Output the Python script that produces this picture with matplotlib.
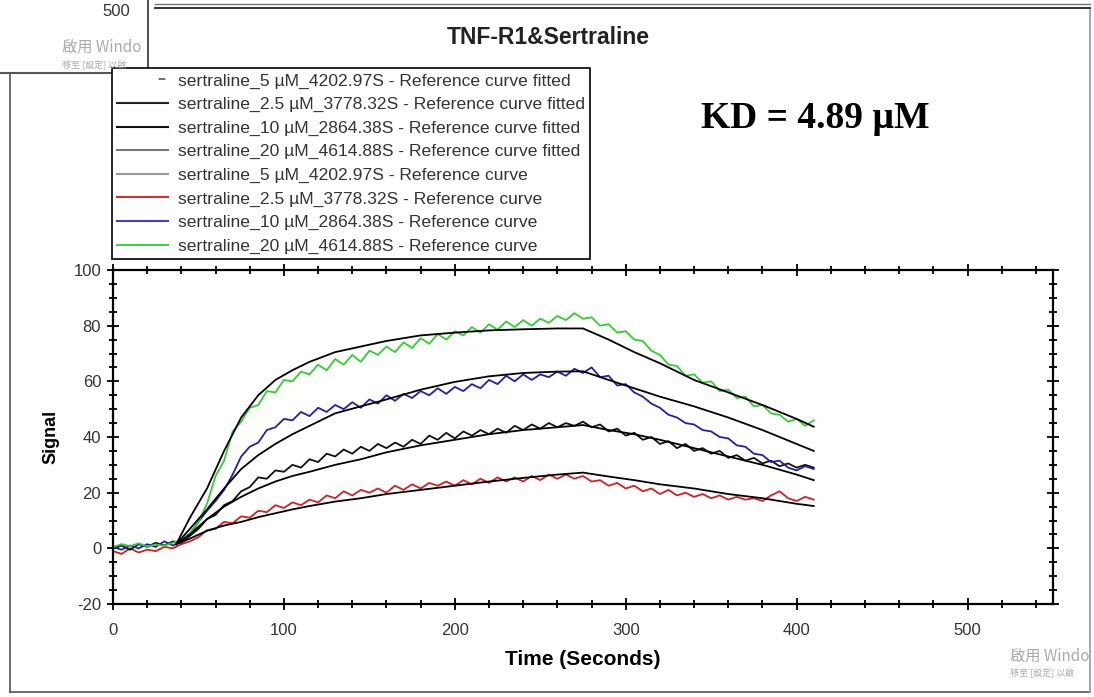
import numpy as np
import matplotlib.pyplot as plt
from matplotlib.lines import Line2D
from matplotlib.patches import Rectangle
from matplotlib.ticker import MultipleLocator

plt.rcParams['font.family'] = ['Liberation Sans', 'DejaVu Sans']
plt.rcParams['axes.unicode_minus'] = False

# measured traces, sampled every 5 s from t = 0
step = 5
green_20 = [0.5, 1.5, 0.8, 1.8, 0.6, 1.4, 0.9, 2.0, 3.0, 5.5, 9.5, 16.0, 26.0, 31.5, 42.0, 45.5,
            50.5, 51.5, 56.5, 56.0, 60.5, 60.0, 63.5, 62.5, 66.0, 64.0, 68.0, 66.0, 69.5, 67.0,
            71.0, 69.5, 72.5, 70.5, 74.0, 72.0, 75.5, 73.5, 77.0, 75.0, 78.0, 76.5, 79.5, 77.5,
            80.5, 78.5, 81.5, 79.5, 82.0, 80.0, 82.5, 81.0, 83.5, 82.0, 84.5, 82.5, 83.0, 80.0,
            80.5, 77.5, 78.0, 75.0, 74.5, 71.0, 69.5, 66.0, 65.5, 62.0, 62.5, 59.5, 60.0, 56.5,
            57.0, 54.0, 54.5, 51.0, 51.5, 48.5, 48.0, 45.5, 46.5, 44.0, 46.0]
blue_10 = [0.5, -0.5, 1.0, 0.0, 1.5, 0.5, 2.5, 1.0, 2.5, 5.0, 9.5, 13.5, 17.0, 21.0, 26.5, 33.0,
           36.5, 38.0, 42.5, 43.5, 46.5, 46.0, 49.0, 47.5, 50.5, 49.0, 51.5, 50.0, 52.5, 50.5,
           53.5, 52.0, 55.0, 53.0, 55.5, 54.0, 56.5, 55.0, 57.5, 55.5, 58.0, 56.5, 59.0, 57.5,
           60.5, 59.0, 62.0, 60.0, 62.5, 60.5, 62.5, 61.5, 63.5, 62.0, 64.5, 63.0, 65.0, 61.5,
           62.0, 58.5, 59.0, 56.0, 54.5, 52.0, 50.5, 48.0, 47.0, 45.0, 44.5, 42.5, 42.0, 40.0,
           39.5, 37.0, 36.5, 34.0, 33.5, 31.0, 31.5, 29.0, 28.0, 29.5, 28.5]
black_5 = [0.0, 1.0, -0.5, 1.5, 0.5, 2.0, 1.0, 2.5, 2.0, 4.5, 7.0, 10.5, 12.0, 15.5, 17.0, 20.5,
           22.0, 25.5, 25.0, 28.0, 27.5, 30.0, 29.0, 32.0, 31.0, 34.0, 33.0, 35.5, 34.0, 36.5,
           35.0, 37.5, 36.0, 38.0, 36.5, 39.0, 37.5, 40.5, 39.0, 41.5, 39.5, 42.0, 40.5, 42.5,
           41.0, 43.0, 41.5, 44.0, 42.5, 44.5, 43.0, 45.0, 43.5, 45.0, 44.0, 45.5, 43.5, 44.5,
           42.0, 43.0, 40.5, 41.5, 39.0, 40.0, 37.5, 38.5, 36.0, 37.5, 35.0, 36.0, 34.0, 35.0,
           32.5, 33.5, 31.5, 32.5, 30.5, 31.5, 29.5, 30.5, 29.0, 30.0, 29.0]
red_25 = [-1.0, -2.0, 0.0, -1.5, -0.5, -1.0, 0.5, 0.0, 1.5, 2.5, 4.0, 6.5, 7.0, 9.5, 9.0, 11.5,
          11.0, 13.5, 13.0, 15.5, 14.5, 16.5, 15.5, 17.5, 16.5, 19.0, 18.0, 20.5, 19.0, 21.0,
          20.0, 21.5, 20.0, 22.5, 21.0, 23.0, 21.5, 23.5, 22.5, 24.0, 22.5, 24.5, 23.0, 25.0,
          23.5, 25.5, 24.0, 25.5, 24.0, 26.0, 24.5, 26.5, 25.0, 26.5, 25.0, 26.0, 24.0, 24.5,
          22.5, 23.5, 21.5, 22.5, 20.5, 21.5, 19.5, 21.0, 19.0, 20.0, 18.5, 19.5, 18.0, 19.0,
          17.5, 18.5, 17.5, 18.0, 17.0, 19.0, 20.5, 18.0, 17.0, 18.5, 17.5]

# fitted curves
fit_t = [37, 45, 55, 65, 75, 85, 95, 105, 115, 130, 145, 160, 180, 200, 220, 240, 260, 275,
         290, 305, 320, 340, 360, 380, 400, 410]
fit_20 = [1.5, 11, 21.5, 35, 47, 55, 60.5, 64, 67, 70.5, 72.5, 74.5, 76.5, 77.5, 78.3, 78.7,
          79, 79, 75, 70.5, 66.5, 60.5, 56, 51.5, 46.5, 43.7]
fit_10 = [1.5, 7, 14, 21.5, 28.5, 33.5, 37.5, 41, 44, 48.5, 51, 53.5, 57, 59.8, 61.8, 63,
          63.5, 63.6, 60.5, 57.5, 54.5, 51, 47, 42.5, 37.5, 35]
fit_5 = [1.5, 5, 10.5, 15, 18.5, 21.5, 24, 26, 27.5, 30, 32, 34.5, 37, 39, 41, 42.5, 43.5,
         44.3, 42.5, 41, 39, 36, 33, 30, 26.5, 24.5]
fit_25 = [1.5, 3.5, 6.3, 8.2, 9.5, 11.2, 12.6, 14, 15.2, 16.8, 18, 19.5, 21, 22.5, 24, 25.3,
          26.5, 27.2, 25.8, 24.5, 23, 21.5, 19.5, 18, 16, 15.2]

legend_labels = [
    'sertraline_5 µM_4202.97S - Reference curve fitted',
    'sertraline_2.5 µM_3778.32S - Reference curve fitted',
    'sertraline_10 µM_2864.38S - Reference curve fitted',
    'sertraline_20 µM_4614.88S - Reference curve fitted',
    'sertraline_5 µM_4202.97S - Reference curve',
    'sertraline_2.5 µM_3778.32S - Reference curve',
    'sertraline_10 µM_2864.38S - Reference curve',
    'sertraline_20 µM_4614.88S - Reference curve',
]
legend_colors = ['#555555', '#222222', '#111111', '#777777', '#999999', '#d03030', '#4040c0', '#40d040']

fig = plt.figure(figsize=(10.94, 6.97), dpi=100)
W, H = 1094, 697
ax = fig.add_axes([113 / W, 93 / H, 940 / W, 334 / H])

t = np.arange(len(green_20)) * step
ax.plot(t, red_25, color='#d42020', lw=1.3)
ax.plot(t, black_5, color='#111111', lw=1.3)
ax.plot(t, blue_10, color='#2020b0', lw=1.3)
ax.plot(t, green_20, color='#30d030', lw=1.3)
for f in (fit_20, fit_10, fit_5, fit_25):
    ax.plot(fit_t, f, color='black', lw=1.3)

ax.set_xlim(0, 550)
ax.set_ylim(-20, 100)
ax.xaxis.set_major_locator(MultipleLocator(100))
ax.xaxis.set_minor_locator(MultipleLocator(20))
ax.yaxis.set_major_locator(MultipleLocator(20))
ax.yaxis.set_minor_locator(MultipleLocator(5))
ax.set_xticks([0, 100, 200, 300, 400, 500])
for s in ax.spines.values():
    s.set_linewidth(1.6)
ax.tick_params(axis='both', which='both', top=True, right=True, width=1.3, labelsize=12,
               labelcolor='#333333')
ax.tick_params(axis='x', which='both', direction='inout', pad=9)
ax.tick_params(axis='y', which='both', direction='inout', pad=4)
ax.tick_params(which='major', length=9)
ax.tick_params(which='minor', length=6)
ax.set_ylabel('Signal', fontsize=13, fontweight='bold', labelpad=10)
ax.set_xlabel('Time (Seconds)', fontsize=15, fontweight='bold', labelpad=9)

fig.text(548 / W, 1 - 37 / H, 'TNF-R1&Sertraline', fontsize=16.5, fontweight='bold',
         ha='center', va='center', color='#222222')
fig.text(815 / W, 1 - 118 / H, 'KD = 4.89 µM', fontsize=27, fontweight='bold',
         family='Liberation Serif', ha='center', va='center')

handles = []
for i, c in enumerate(legend_colors):
    if i == 0:
        handles.append(Line2D([], [], color=c, lw=1.2, linestyle=(4, (4, 25))))
    else:
        handles.append(Line2D([], [], color=c, lw=1.5))
leg = fig.legend(handles, legend_labels, loc='upper left', bbox_to_anchor=(112 / W, 1 - 68 / H),
                 fontsize=12.6, frameon=True, fancybox=False, framealpha=1, edgecolor='black',
                 borderpad=0.3, labelspacing=0.47, handlelength=2.9, handletextpad=0.55,
                 borderaxespad=0)
leg.get_frame().set_linewidth(1.2)
for txt in leg.get_texts():
    txt.set_color('#333333')

# screenshot frame and overlays
frame_kw = dict(transform=fig.transFigure, color='#555555', lw=1.2)
fig.add_artist(Line2D([10 / W, 10 / W], [1 - 73 / H, 1 - 692 / H], **frame_kw))
fig.add_artist(Line2D([10 / W, 1090 / W], [1 - 692 / H, 1 - 692 / H], **frame_kw))
fig.add_artist(Line2D([1090 / W, 1090 / W], [1 - 10 / H, 1 - 692 / H], color='#999999', lw=1.2,
                      transform=fig.transFigure))
fig.add_artist(Line2D([155 / W, 1090 / W], [1 - 4 / H, 1 - 4 / H], color='#777777', lw=1.0,
                      transform=fig.transFigure))
fig.add_artist(Line2D([155 / W, 1090 / W], [1 - 8 / H, 1 - 8 / H], color='#333333', lw=1.4,
                      transform=fig.transFigure))
fig.add_artist(Rectangle((-0.01, 1 - 73 / H), 159 / W, 80 / H, transform=fig.transFigure,
                         facecolor='white', edgecolor='#555555', lw=1.5, zorder=5))
fig.text(130 / W, 1 - 12 / H, '500', fontsize=12, ha='right', va='center', color='#333333',
         zorder=6)
cjk = ['Noto Sans CJK TC', 'DejaVu Sans']
fig.text(62 / W, 1 - 47 / H, '啟用 Windo', fontsize=11, family=cjk, color='#aaaaaa',
         va='center', zorder=6)
fig.text(62 / W, 1 - 65 / H, '移至 [設定] 以啟', fontsize=6.5, family=cjk, color='#aaaaaa',
         va='center', zorder=6)
fig.text(1010 / W, 1 - 656 / H, '啟用 Windo', fontsize=11, family=cjk, color='#aaaaaa',
         va='center')
fig.text(1010 / W, 1 - 673 / H, '移至 [設定] 以啟', fontsize=6.5, family=cjk, color='#aaaaaa',
         va='center')

fig.savefig('out.png', dpi=100, facecolor='white')
